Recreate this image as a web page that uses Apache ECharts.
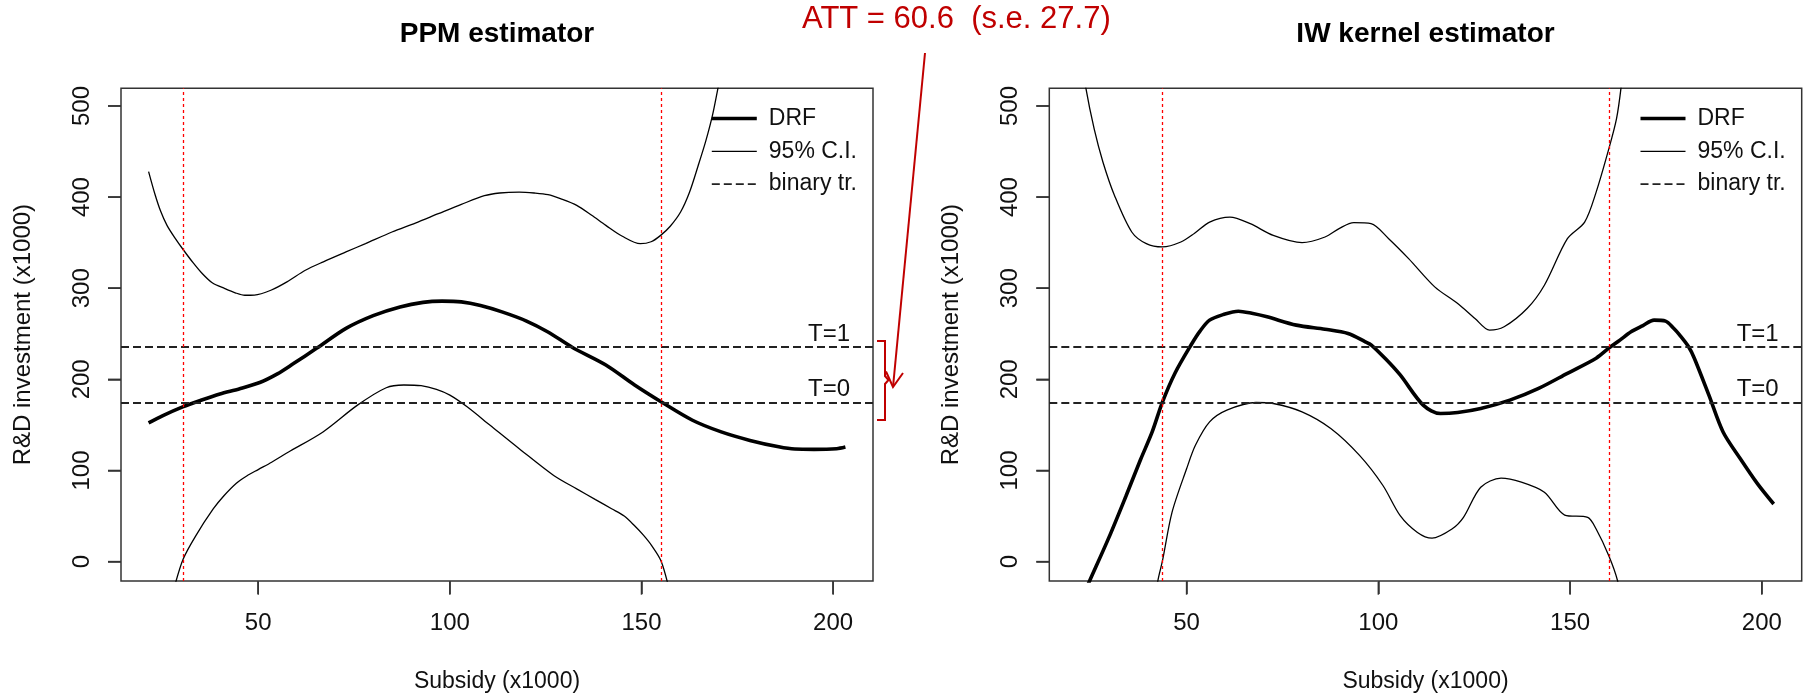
<!DOCTYPE html>
<html>
<head>
<meta charset="utf-8">
<script src="https://cdn.jsdelivr.net/npm/echarts@6/dist/echarts.min.js"></script>
<style>
html,body{margin:0;padding:0;background:#fff;}
#chart{width:1808px;height:698px;background:#fff;}
</style>
</head>
<body>
<div id="chart"></div>
<script>
// ---------- data ----------
const xTicks = [50, 100, 150, 200];
const yTicks = [0, 100, 200, 300, 400, 500];
const panelTitles = ['PPM estimator', 'IW kernel estimator'];
const legendNames = ['DRF', '95% C.I.', 'binary tr.'];
const binaryLevels = [174.7, 235.3];
const binaryLabels = ['T=0', 'T=1'];
const ppmSupport = [30.4, 155.1];
const iwSupport = [43.7, 160.1];
const attText = 'ATT = 60.6  (s.e. 27.7)';

// PPM estimator
const ppmDrfX = [21.4, 25, 30.3, 35, 40, 45, 50.4, 55, 59.1, 65.2, 72.9, 80, 87, 93, 98, 103, 108, 113.6, 120, 125.6, 132, 140.7, 148.2, 155.1, 163.3, 170.8, 178.3, 185.8, 190, 195, 200.9, 203.2];
const ppmDrfY = [152.3, 160, 169.8, 177, 184, 189.5, 196.5, 206, 217, 234, 256, 270, 279.5, 284.5, 285.8, 285, 281, 274, 264, 252, 235, 215.8, 193.8, 175.4, 155.1, 142.3, 133, 126, 123.5, 123.2, 123.9, 125.7];
const ppmUpX = [21.4, 23, 24.5, 26.2, 28.3, 30.4, 33, 35.2, 38, 41.3, 44, 46.5, 49, 53.3, 57.5, 62.3, 67, 72.9, 78, 84.9, 91, 97, 103, 109, 113, 118.1, 122, 125.6, 129, 133.1, 137, 140.7, 145, 149.7, 152.5, 155, 157.5, 160.2, 162.5, 164.8, 166.8, 168.5, 170, 171.5];
const ppmUpY = [428, 404, 385, 369, 355, 342.5, 328, 317, 306, 299.6, 295, 292.3, 292.5, 297.8, 307, 319.7, 329, 339.8, 349, 361.7, 371.5, 381.8, 392, 401.5, 404.5, 405.5, 404.5, 402.6, 398, 390.9, 380, 369, 357, 348.9, 351, 358, 368, 383.6, 405, 434.7, 462, 489.4, 520.4, 550];
const ppmLoX = [28, 30.4, 33.7, 38.3, 41, 44.3, 47, 50, 53.5, 57.8, 66.9, 75.9, 83.4, 88, 92.5, 96.5, 100, 104.5, 110.5, 118.1, 127.1, 133.1, 138, 142.2, 145.5, 148.2, 150.5, 152.7, 155.1, 157.2];
const ppmLoY = [-30, 2.6, 28.3, 58, 72, 86, 94, 101, 109, 120, 142.3, 171.7, 190.8, 193.8, 193, 189, 182.7, 169.9, 149.6, 123.9, 94.5, 79.8, 68, 58, 50, 39.3, 29, 17.3, 0.7, -30];

// IW kernel estimator
const iwDrfX = [22, 24.7, 29.7, 34.2, 38, 41, 43.7, 47, 51.2, 53.5, 56, 59.5, 63.5, 67, 71, 78.6, 86.1, 92.1, 96.6, 98.1, 102, 105.7, 111.7, 116.2, 120.7, 126.7, 134.3, 141.8, 149.3, 156.8, 160.1, 163, 165.9, 169, 171.9, 174.9, 177, 178.6, 180.9, 182.4, 186.2, 189.9, 194.4, 198.9, 203.1];
const iwDrfY = [-47, -21.3, 26, 72, 112, 142, 175, 207, 238, 253, 265, 271, 274.8, 272.5, 268.6, 259.5, 255, 250.4, 241.2, 237.9, 222, 204.8, 171.7, 162.5, 163.6, 168, 177.2, 190.1, 206.6, 223.2, 234.2, 243, 252.2, 259, 265, 263.9, 256, 248.5, 235.8, 223.2, 182.7, 142.3, 112.9, 85.3, 63.2];
const iwUpX = [21.5, 23.7, 25.9, 28.2, 31.2, 35.7, 39.5, 43.7, 48.5, 52, 56, 61.3, 66.6, 72.6, 80.1, 86.1, 90, 93.6, 98.1, 102.7, 107.9, 114.7, 120.7, 125.2, 129, 132.8, 138.8, 143.3, 149.3, 153.8, 156.8, 160.1, 162.1, 163.3, 164.5];
const iwUpY = [580, 520.4, 474.8, 438.3, 401.8, 361.7, 348.9, 345.3, 350.7, 360, 372.6, 378.1, 370.8, 358, 350, 356.2, 366, 371.9, 370.8, 354.4, 332.5, 301.5, 283.2, 266.8, 254, 257.7, 277.7, 303.3, 354.4, 372.6, 405.5, 452.9, 485.8, 520.4, 570];
const iwLoX = [41.8, 42.5, 43.7, 46.2, 50, 52.3, 56, 60.5, 68.1, 72.6, 80.1, 87.6, 95.1, 101.2, 105.7, 110.2, 114, 119.2, 122.2, 126.7, 132, 137.3, 143.3, 148.6, 154.6, 156.8, 160.1, 162.4, 163];
const iwLoY = [-50, -21.3, 0.7, 54, 101.8, 127.6, 153.3, 166.2, 174.6, 173.5, 164.3, 146, 116.5, 83.5, 50.4, 32, 25.7, 35.7, 48.5, 81.6, 91.5, 87.1, 76.1, 51.1, 48.5, 35.7, 6.3, -21.3, -40];

// ---------- chart ----------
const FONT = '"Liberation Sans", Arial, sans-serif';
const TXT = '#111';
const AX = '#333';
const TICK_LEN = 13;
const X_RANGE = [14.2, 210.4];
const Y_RANGE = [-21.3, 519.4];
const zip = (xs, ys) => xs.map((x, i) => [x, ys[i]]);

const panels = [
  {drf: zip(ppmDrfX, ppmDrfY), up: zip(ppmUpX, ppmUpY), lo: zip(ppmLoX, ppmLoY), support: ppmSupport},
  {drf: zip(iwDrfX, iwDrfY), up: zip(iwUpX, iwUpY), lo: zip(iwLoX, iwLoY), support: iwSupport}
];
const gridLeft = [121, 1049.3];
const gridWidth = [752, 752.4];
const gridTop = 88.3, gridHeight = 493.4;

const grids = [], xAxes = [], yAxes = [], series = [], titles = [], legends = [];
panels.forEach((p, i) => {
  grids.push({left: gridLeft[i], top: gridTop, width: gridWidth[i], height: gridHeight,
    show: true, borderColor: AX, borderWidth: 1.5, backgroundColor: 'transparent'});
  xAxes.push({type: 'value', gridIndex: i, min: X_RANGE[0], max: X_RANGE[1], position: 'bottom',
    name: 'Subsidy (x1000)', nameLocation: 'middle', nameGap: 89,
    nameTextStyle: {fontSize: 23, color: TXT, fontFamily: FONT},
    axisLine: {show: false, onZero: false}, splitLine: {show: false},
    axisTick: {show: true, inside: false, length: TICK_LEN, customValues: xTicks, lineStyle: {color: AX, width: 1.5}},
    axisLabel: {customValues: xTicks, fontSize: 24, color: TXT, fontFamily: FONT, margin: 30}});
  yAxes.push({type: 'value', gridIndex: i, min: Y_RANGE[0], max: Y_RANGE[1], position: 'left',
    name: 'R&D investment (x1000)', nameLocation: 'middle', nameGap: 86, nameRotate: 90,
    nameTextStyle: {fontSize: 24, color: TXT, fontFamily: FONT},
    axisLine: {show: false, onZero: false}, splitLine: {show: false},
    axisTick: {show: true, inside: false, length: TICK_LEN, customValues: yTicks, lineStyle: {color: AX, width: 1.5}},
    axisLabel: {customValues: yTicks, rotate: 90, fontSize: 24, color: TXT, fontFamily: FONT, margin: 26.5}});
  series.push({name: 'DRF', type: 'line', xAxisIndex: i, yAxisIndex: i, data: p.drf,
    symbol: 'none', smooth: 0.3, z: 4, lineStyle: {color: '#000', width: 3.6}});
  series.push({name: '95% C.I.', type: 'line', xAxisIndex: i, yAxisIndex: i, data: p.up,
    symbol: 'none', smooth: 0.3, z: 3, lineStyle: {color: '#000', width: 1.3}});
  series.push({name: '95% C.I.', type: 'line', xAxisIndex: i, yAxisIndex: i, data: p.lo,
    symbol: 'none', smooth: 0.3, z: 3, lineStyle: {color: '#000', width: 1.3}});
  series.push({name: 'binary tr.', type: 'line', xAxisIndex: i, yAxisIndex: i, data: [],
    symbol: 'none', lineStyle: {color: '#222', width: 1.8, type: [8, 4]},
    markLine: {silent: true, symbol: ['none', 'none'], animation: false,
      lineStyle: {color: '#222', width: 1.8, type: [8, 4]},
      label: {show: true, position: 'insideEndTop', distance: [23, 1], fontSize: 24, color: TXT, fontFamily: FONT},
      data: binaryLevels.map((v, k) => ({yAxis: v, label: {formatter: binaryLabels[k]}}))}});
  series.push({name: 'support', type: 'line', xAxisIndex: i, yAxisIndex: i, data: [],
    symbol: 'none',
    markLine: {silent: true, symbol: ['none', 'none'], animation: false,
      lineStyle: {color: '#ff0000', width: 1.3, type: [3, 3]},
      label: {show: false},
      data: p.support.map(v => ({xAxis: v}))}});
  titles.push({text: panelTitles[i], left: gridLeft[i] + gridWidth[i] / 2, top: 20.5, padding: 0,
    textAlign: 'center', textStyle: {fontSize: 28, fontWeight: 'bold', color: '#000', fontFamily: FONT}});
  legends.push({data: legendNames, orient: 'vertical', left: gridLeft[i] + gridWidth[i] - 163, top: 104,
    padding: 0, itemWidth: 45, itemHeight: 24, itemGap: 3.8, selectedMode: false,
    itemStyle: {opacity: 0}, lineStyle: {width: 'inherit'},
    textStyle: {fontSize: 23, color: TXT, fontFamily: FONT, padding: [5, 0, 0, 7], lineHeight: 24}});
});

const RED = '#c00000';
const baseGraphic = [
  {type: 'text', left: 802, top: 4, style: {text: attText, fontSize: 31, fill: RED, fontFamily: FONT}},
  {type: 'polyline', shape: {points: [[925, 53], [893, 387]]}, style: {stroke: RED, lineWidth: 2, fill: null}},
  {type: 'polyline', shape: {points: [[886, 371.5], [893, 387], [903, 373]]}, style: {stroke: RED, lineWidth: 2, fill: null}},
  {type: 'polyline', shape: {points: [[877, 341], [885, 341], [885, 376], [888.5, 380], [885, 384], [885, 420], [877, 420]]}, style: {stroke: RED, lineWidth: 2, fill: null}}
];

const chart = echarts.init(document.getElementById('chart'), null, {renderer: 'canvas'});
chart.setOption({
  animation: false,
  title: titles,
  legend: legends,
  grid: grids,
  xAxis: xAxes,
  yAxis: yAxes,
  series: series,
  graphic: baseGraphic
});

// outward R-style ticks, positioned through the axes' scales (linear fallback)
function toPx(finder, v, lo, hi, p0, p1) {
  let r;
  try { r = chart.convertToPixel(finder, v); } catch (e) { r = NaN; }
  if (Array.isArray(r)) r = r[0];
  if (typeof r !== 'number' || !isFinite(r)) r = p0 + (v - lo) / (hi - lo) * (p1 - p0);
  return r;
}
const tickGraphic = [];
panels.forEach((p, i) => {
  const bottom = gridTop + gridHeight;
  const left = gridLeft[i];
  xTicks.forEach(v => {
    const px = toPx({xAxisIndex: i}, v, X_RANGE[0], X_RANGE[1], left, left + gridWidth[i]);
    tickGraphic.push({type: 'line', silent: true, z: 1000,
      shape: {x1: px, y1: bottom, x2: px, y2: bottom + TICK_LEN},
      style: {stroke: AX, lineWidth: 1.5}});
  });
  yTicks.forEach(v => {
    const py = toPx({yAxisIndex: i}, v, Y_RANGE[0], Y_RANGE[1], bottom, gridTop);
    tickGraphic.push({type: 'line', silent: true, z: 1000,
      shape: {x1: left - TICK_LEN, y1: py, x2: left, y2: py},
      style: {stroke: AX, lineWidth: 1.5}});
  });
});
chart.setOption({graphic: baseGraphic.concat(tickGraphic)});
</script>
</body>
</html>
